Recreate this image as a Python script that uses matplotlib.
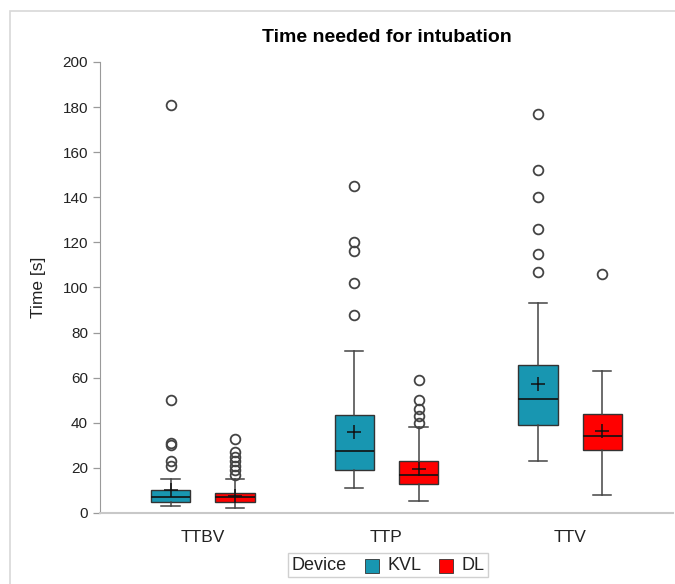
import matplotlib
matplotlib.use("Agg")
import matplotlib.pyplot as plt
from matplotlib.patches import Rectangle
from matplotlib.offsetbox import AnchoredOffsetbox, DrawingArea, HPacker, TextArea

plt.rcParams["font.family"] = ["Liberation Sans", "DejaVu Sans"]

categories = ["TTBV", "TTP", "TTV"]
devices = ["KVL", "DL"]
colors = {"KVL": "#1896b1", "DL": "#ff0000"}

# box statistics (seconds), order: TTBV, TTP, TTV
stats_values = {
    "KVL": {
        "whislo": [3, 11, 23],
        "q1": [5, 19, 39],
        "med": [7, 27.5, 50.5],
        "q3": [10, 43.5, 65.5],
        "whishi": [15, 72, 93],
        "mean": [10, 36, 57],
        "fliers": [
            [21, 23, 30, 31, 50, 181],
            [88, 102, 116, 120, 145],
            [107, 115, 126, 140, 152, 177],
        ],
    },
    "DL": {
        "whislo": [2, 5.5, 8],
        "q1": [5, 13, 28],
        "med": [7, 17, 34],
        "q3": [9, 23, 44],
        "whishi": [15, 38, 63],
        "mean": [7.5, 19.5, 36.5],
        "fliers": [
            [17, 19, 21, 23, 25, 27, 33],
            [40, 43, 46, 50, 59],
            [106],
        ],
    },
}

offsets = {"KVL": -0.175, "DL": 0.175}

fig = plt.figure(figsize=(6.75, 5.84), dpi=100)
ax = fig.add_axes([0.148, 0.1216, 0.849, 0.7724])

for dev in devices:
    sv = stats_values[dev]
    stats = []
    for i in range(len(categories)):
        stats.append({
            "whislo": sv["whislo"][i], "q1": sv["q1"][i], "med": sv["med"][i],
            "q3": sv["q3"][i], "whishi": sv["whishi"][i], "mean": sv["mean"][i],
            "fliers": sv["fliers"][i],
        })
    positions = [i + offsets[dev] for i in range(len(categories))]
    ax.bxp(
        stats, positions=positions, widths=0.215, patch_artist=True,
        showmeans=True, capwidths=0.1,
        boxprops=dict(facecolor=colors[dev], edgecolor="#333333", linewidth=1.0),
        medianprops=dict(color="#111111", linewidth=1.2),
        whiskerprops=dict(color="#444444", linewidth=1.1),
        capprops=dict(color="#444444", linewidth=1.1),
        meanprops=dict(marker="+", markeredgecolor="#111111", markersize=10,
                       markeredgewidth=1.1),
        flierprops=dict(marker="o", markerfacecolor="none", markeredgecolor="#444444",
                        markersize=7, markeredgewidth=1.3),
    )

ax.set_xlim(-0.56, 2.56)
ax.set_ylim(0, 200)
ax.set_xticks(range(len(categories)))
ax.set_xticklabels(categories, fontsize=12.5, color="#222222")
ax.set_yticks(range(0, 201, 20))
ax.tick_params(axis="y", labelsize=11, colors="#222222", length=5,
               color="#9a9a9a", width=0.9)
ax.tick_params(axis="x", length=0, pad=12)
for side in ["top", "right"]:
    ax.spines[side].set_visible(False)
ax.spines["left"].set_color("#9a9a9a")
ax.spines["bottom"].set_color("#c8c8c8")
ax.spines["bottom"].set_linewidth(1.5)
ax.set_ylabel("Time [s]", fontsize=12.5, color="#222222", labelpad=12)
ax.set_title("Time needed for intubation", fontsize=14, fontweight="bold", pad=14)

# legend with inline title
items = [TextArea("Device", textprops=dict(fontsize=13, color="#222222"))]
for dev in devices:
    da = DrawingArea(11, 11, 0, 0)
    da.add_artist(Rectangle((0, 0), 10, 10, facecolor=colors[dev],
                            edgecolor="#333333", linewidth=0.6))
    items.append(HPacker(children=[da, TextArea(dev, textprops=dict(fontsize=13, color="#222222"))],
                         pad=0, sep=5, align="center"))
row = HPacker(children=items, pad=0, sep=13, align="center")
leg = AnchoredOffsetbox(loc="center", child=row, pad=0.25, borderpad=0,
                        bbox_to_anchor=(388 / 675, 1 - 565 / 584),
                        bbox_transform=fig.transFigure, frameon=True)
leg.patch.set_edgecolor("#d0d0d0")
leg.patch.set_linewidth(1.0)
fig.add_artist(leg)

# faint frame around the figure
fig.patches.append(Rectangle((10 / 675, -0.1), 1.2, 1 - 11 / 584 + 0.1,
                             transform=fig.transFigure, fill=False,
                             edgecolor="#d8d8d8", linewidth=1.2))

fig.savefig("out.png", dpi=100)
